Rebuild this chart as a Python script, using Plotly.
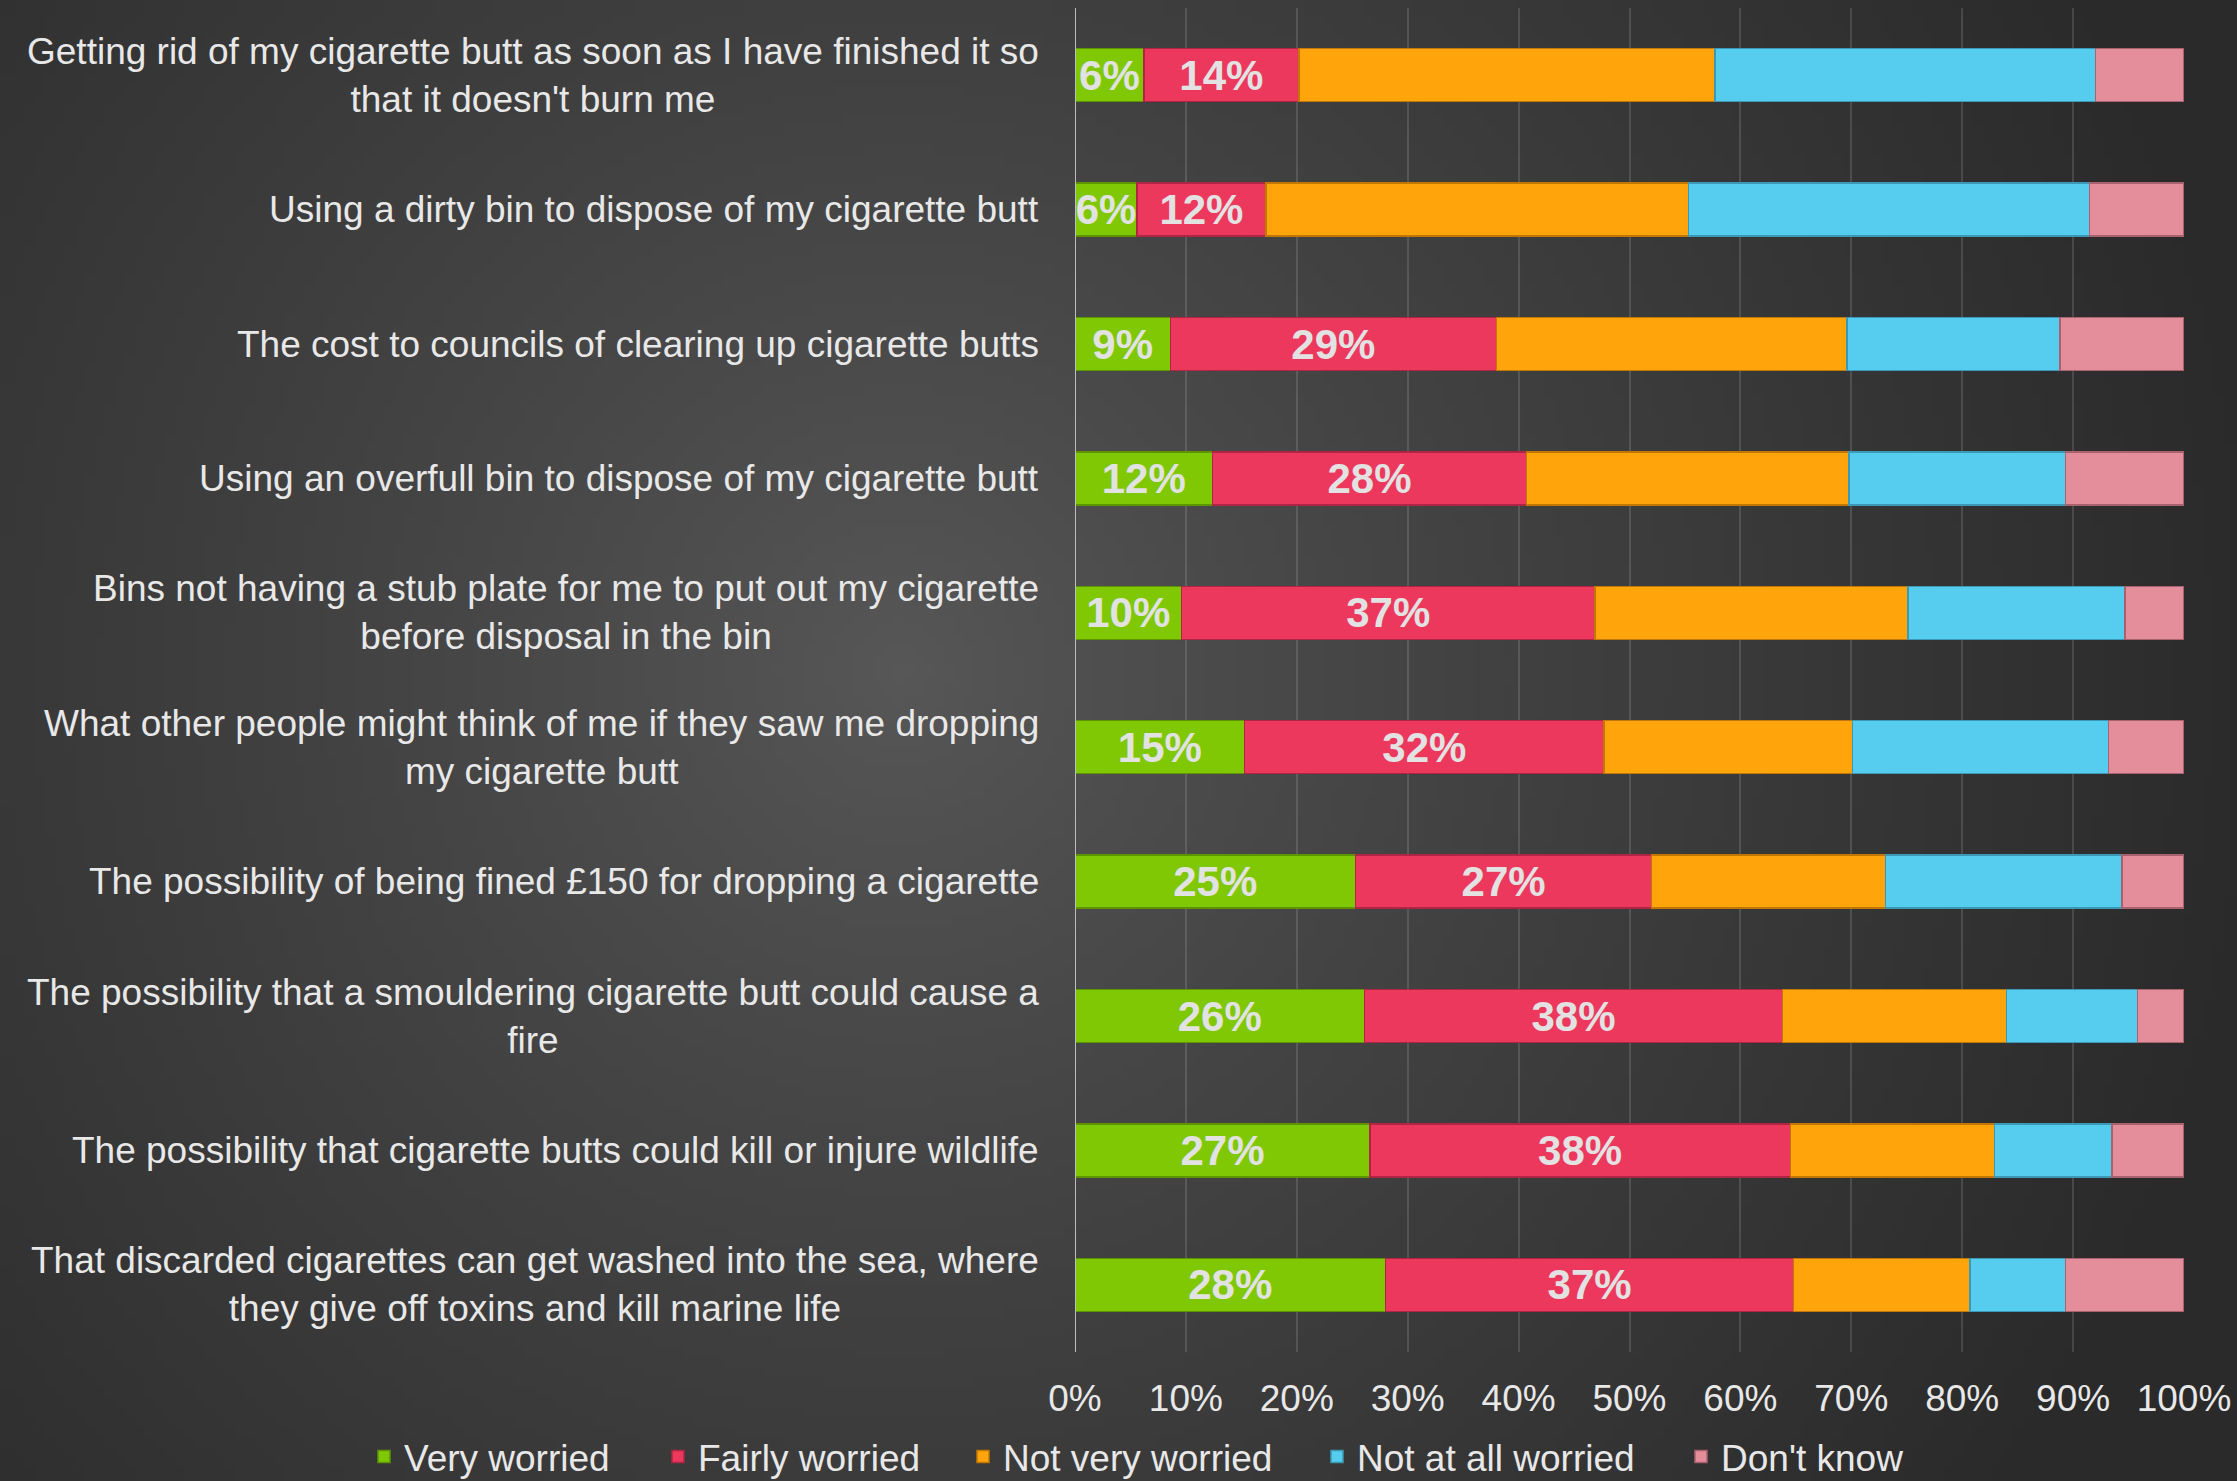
import base64, struct, zlib
import numpy as np
import plotly.graph_objects as go

categories = [
    "Getting rid of my cigarette butt as soon as I have finished it so<br>that it doesn't burn me",
    "Using a dirty bin to dispose of my cigarette butt",
    "The cost to councils of clearing up cigarette butts",
    "Using an overfull bin to dispose of my cigarette butt",
    "Bins not having a stub plate for me to put out my cigarette<br>before disposal in the bin",
    "What other people might think of me if they saw me dropping<br>my cigarette butt",
    "The possibility of being fined £150 for dropping a cigarette",
    "The possibility that a smouldering cigarette butt could cause a<br>fire",
    "The possibility that cigarette butts could kill or injure wildlife",
    "That discarded cigarettes can get washed into the sea, where<br>they give off toxins and kill marine life",
]
very_worried = [6.2, 5.6, 8.6, 12.4, 9.6, 15.3, 25.3, 26.1, 26.6, 28.0]
fairly_worried = [14.0, 11.6, 29.4, 28.3, 37.3, 32.4, 26.7, 37.7, 37.9, 36.8]
not_very_worried = [37.5, 38.1, 31.6, 29.1, 28.2, 22.4, 21.1, 20.2, 18.4, 15.9]
not_at_all_worried = [34.3, 36.2, 19.2, 19.5, 19.6, 23.1, 21.3, 11.8, 10.6, 8.6]
dont_know = [8.0, 8.5, 11.2, 10.7, 5.3, 6.8, 5.6, 4.2, 6.5, 10.7]
series_names = ["Very worried", "Fairly worried", "Not very worried", "Not at all worried", "Don't know"]
tick_vals = [0, 10, 20, 30, 40, 50, 60, 70, 80, 90, 100]
tick_text = ["0%", "10%", "20%", "30%", "40%", "50%", "60%", "70%", "80%", "90%", "100%"]

W, H = 2237, 1481
L, R, T, B = 1075, 53, 8, 129

# radial gradient background as an embedded PNG
def make_png(arr):
    h, w, _ = arr.shape
    raw = b"".join(b"\x00" + arr[y].tobytes() for y in range(h))
    def chunk(t, d):
        c = struct.pack(">I", len(d)) + t + d
        return c + struct.pack(">I", zlib.crc32(t + d) & 0xFFFFFFFF)
    return (b"\x89PNG\r\n\x1a\n" + chunk(b"IHDR", struct.pack(">IIBBBBB", w, h, 8, 2, 0, 0, 0))
            + chunk(b"IDAT", zlib.compress(raw, 9)) + chunk(b"IEND", b""))

gw, gh = 224, 148
yy, xx = np.mgrid[0:gh, 0:gw]
cx, cy = 0.40 * gw, 0.45 * gh
d = np.sqrt(((xx - cx) / (0.62 * gw)) ** 2 + ((yy - cy) / (0.95 * gh)) ** 2)
d = np.clip(d, 0, 1) ** 0.85
val = 88 - (88 - 42) * d
img = np.repeat(val[:, :, None], 3, axis=2).astype(np.uint8)
src = "data:image/png;base64," + base64.b64encode(make_png(img)).decode()

pw, ph = W - L - R, H - T - B
px0 = -L / pw
py1 = 1 + T / ph

colors = ["#80C804", "#EC385D", "#FFA40A", "#56CDEE", "#E48E9B"]
lines = ["#5E9400", "#B02444", "#C27800", "#3A9AB5", "#A8626E"]
data = [very_worried, fairly_worried, not_very_worried, not_at_all_worried, dont_know]
legend_ids = ["legend", "legend2", "legend3", "legend4", "legend5"]
legend_left_px = [364, 658, 963, 1317, 1681]

fig = go.Figure()
for i, (name, vals) in enumerate(zip(series_names, data)):
    show_text = i < 2
    fig.add_trace(go.Bar(
        y=categories, x=vals, name=name, orientation="h",
        legend=legend_ids[i],
        marker=dict(color=colors[i], line=dict(color=lines[i], width=1.5)),
        text=[f"{v:.0f}%" for v in vals] if show_text else None,
        textposition="inside" if show_text else "none",
        insidetextanchor="middle",
        constraintext="none",
        textfont=dict(family="Liberation Sans, Arial, sans-serif", size=42, color="#E2E2E2", weight="bold"),
        hoverinfo="x+name",
    ))

for c in categories:
    fig.add_annotation(
        x=0, xref="paper", y=c, yref="y", xanchor="right", xshift=-34,
        text=c, showarrow=False, align="center",
        font=dict(family="Liberation Sans, Arial, sans-serif", size=37, color="#E8E8E8"),
    )

leg_y = (H - B - 1426) / ph
legends = {}
for lid, lx in zip(legend_ids, legend_left_px):
    legends[lid] = dict(orientation="h", xref="paper", yref="paper",
                        x=(lx - L) / pw, xanchor="left", y=leg_y, yanchor="top",
                        font=dict(size=37, color="#E8E8E8"),
                        itemwidth=30, bgcolor="rgba(0,0,0,0)")

fig.update_layout(
    width=W, height=H,
    margin=dict(l=L, r=R, t=T, b=B, autoexpand=False),
    barmode="stack", bargap=0.606,
    paper_bgcolor="#333333", plot_bgcolor="rgba(0,0,0,0)",
    font=dict(family="Liberation Sans, Arial, sans-serif", size=37, color="#E8E8E8"),
    images=[dict(source=src, xref="paper", yref="paper", x=px0, y=py1,
                 sizex=W / pw, sizey=H / ph, xanchor="left", yanchor="top",
                 sizing="stretch", layer="below")],
    xaxis=dict(range=[0, 100], tickvals=tick_vals, ticktext=tick_text,
               showgrid=True, gridcolor="rgba(255,255,255,0.13)", gridwidth=1.5,
               zeroline=False, showline=False, ticks="", ticklabelstandoff=21,
               tickfont=dict(size=37, color="#E8E8E8"), fixedrange=True),
    yaxis=dict(categoryorder="array", categoryarray=categories, autorange="reversed",
               showticklabels=False, showgrid=False, zeroline=False,
               showline=False, ticks=""),
    shapes=[dict(type="line", xref="x", yref="paper", x0=0, x1=0, y0=0, y1=1,
                 line=dict(color="#BDBDBD", width=2))],
    showlegend=True,
    **legends,
)

fig.write_html("out.html", config={"displayModeBar": False},
               post_script="document.body.style.margin='0px';")
